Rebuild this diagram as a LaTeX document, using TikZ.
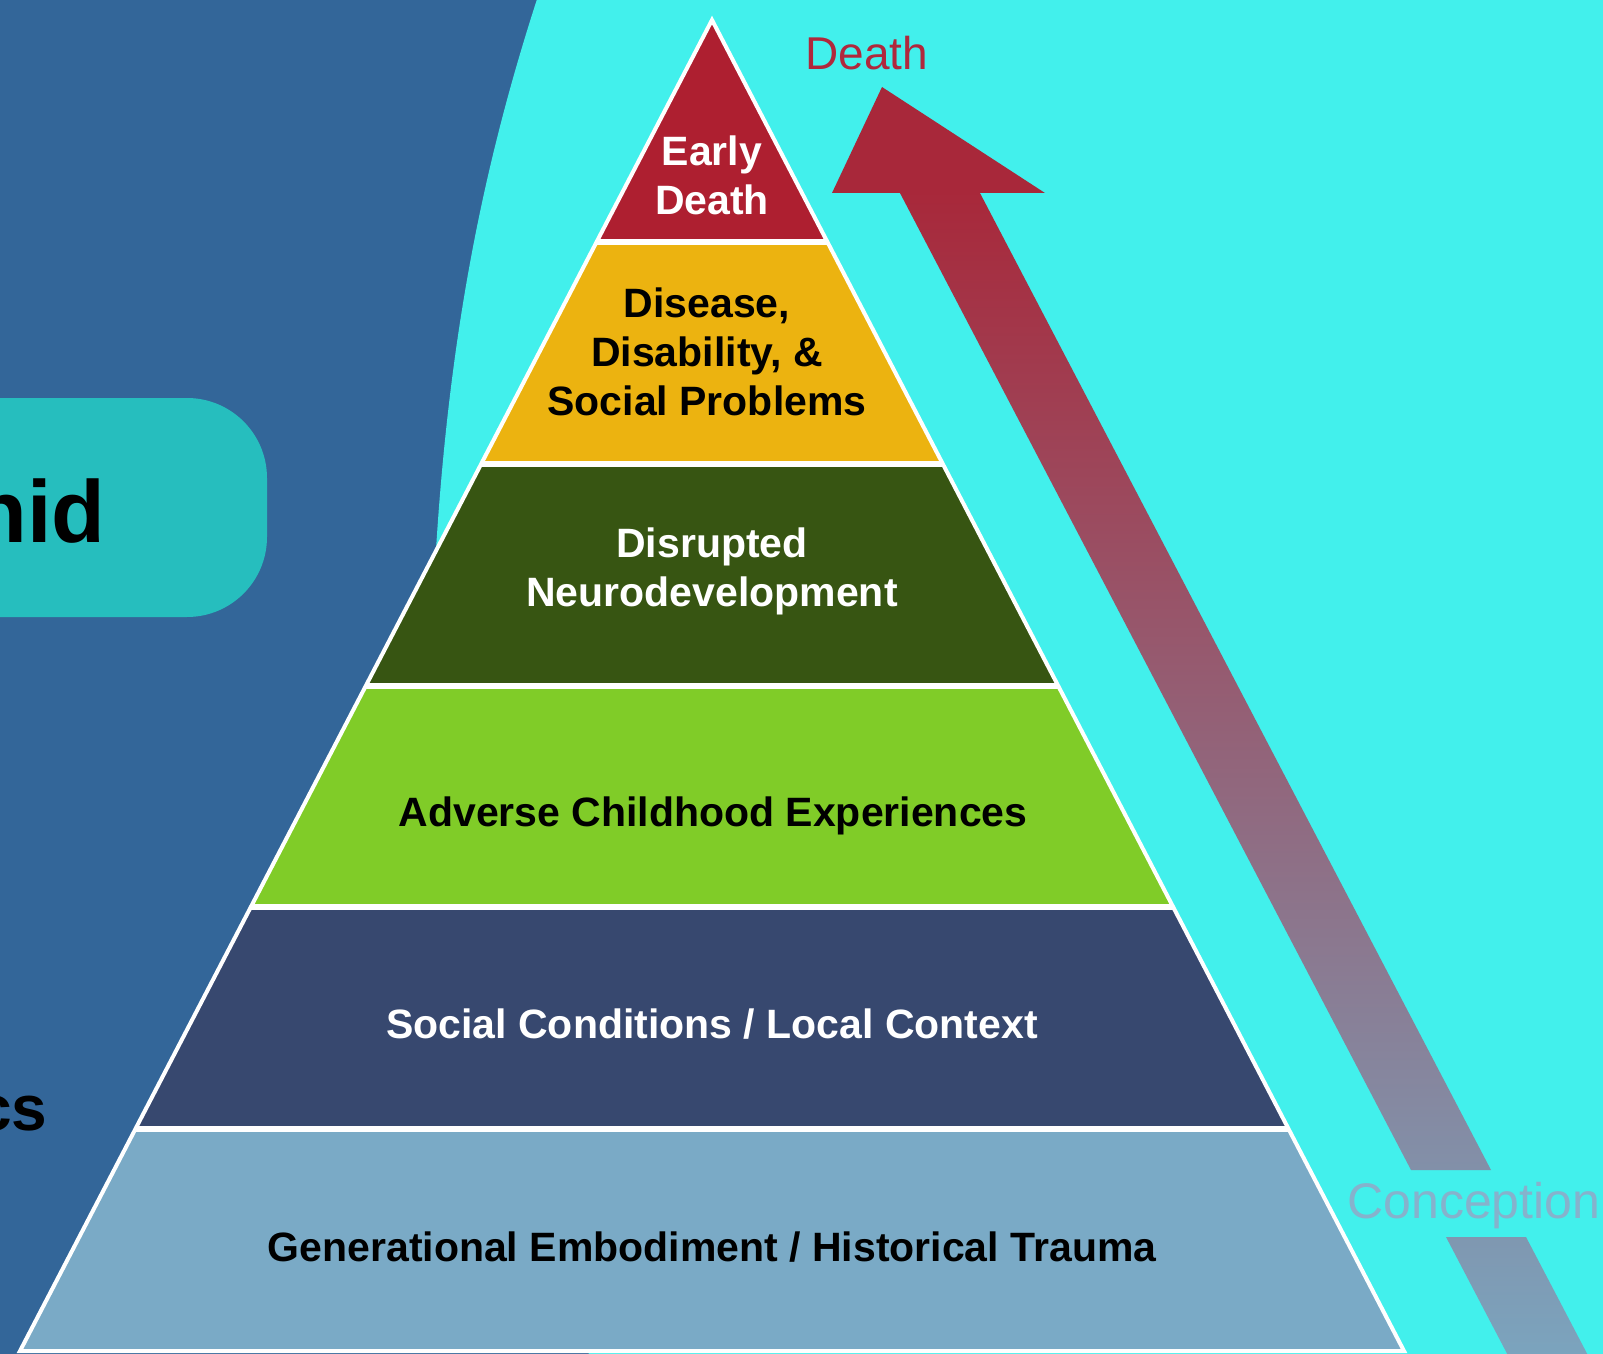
\documentclass[tikz,border=0pt]{standalone}
\usepackage{fontspec}
\setmainfont{Liberation Sans}
\usetikzlibrary{calc}
\definecolor{bgblue}{HTML}{336699}
\definecolor{aqua}{HTML}{42F0EC}
\definecolor{tealbox}{HTML}{26BEBE}
\definecolor{lyrred}{HTML}{AE1F30}
\definecolor{lyryellow}{HTML}{ECB310}
\definecolor{lyrdkgreen}{HTML}{375512}
\definecolor{lyrgreen}{HTML}{80CC28}
\definecolor{lyrnavy}{HTML}{37486F}
\definecolor{lyrsky}{HTML}{7AAAC6}
\definecolor{arrowred}{HTML}{A8283A}
\definecolor{arrowgrey}{HTML}{7BA4BE}
\definecolor{deathred}{HTML}{B0283C}
\definecolor{conceptgrey}{HTML}{86B2CC}

\begin{document}
\begin{tikzpicture}[x=0.5pt,y=-0.5pt,
  lyrtext/.style={font=\fontsize{20.5}{24.5}\selectfont\bfseries, align=center, inner sep=0},
  sidetext/.style={anchor=base east, inner sep=0, text=black},
  sep/.style={draw=white, line width=3pt},
]
\useasboundingbox (0,0) rectangle (1603,1354);
\clip (0,0) rectangle (1603,1354);

% dark blue backdrop
\fill[bgblue] (0,0) rectangle (1603,1354);

% rounded label box and side captions
\fill[tealbox, rounded corners=40pt] (-200,398) rectangle (267,617);
\node[sidetext, font=\fontsize{44}{48}\selectfont\bfseries] (nid) at (106,542) {nid};
\node[sidetext, font=\fontsize{32}{36}\selectfont\bfseries] (cs) at (48,1130) {cs};

% aqua field behind the pyramid
\fill[aqua] (540,-10) .. controls (476,185) and (436,390) .. (430,700)
  -- (600,1400) -- (1700,1400) -- (1700,-10) -- cycle;

% life-course arrow: shaded shaft broken by the caption, solid head
\coordinate (tip) at (882,87);
\coordinate (hl) at (832,193);
\coordinate (hr) at (1045,193);
\shade[top color=arrowred, bottom color=arrowgrey]
  (898.4,190) -- (978.4,190) -- (1491,1170) -- (1411,1170) -- cycle
  (1446,1237) -- (1526,1237) -- (1588.3,1356) -- (1508.3,1356) -- cycle;
\fill[arrowred] (tip) -- (hr) -- (hl) -- cycle;

% pyramid corners and layer boundaries
\coordinate (A) at (712,20);
\coordinate (BL) at (20,1351);
\coordinate (BR) at (1404,1351);
\foreach \k in {1,...,6} {
  \coordinate (L\k) at ($(A)!\k/6!(BL)$);
  \coordinate (R\k) at ($(A)!\k/6!(BR)$);
}

% layers
\fill[lyrred] (A) -- (R1) -- (L1) -- cycle;
\fill[lyryellow] (L1) -- (R1) -- (R2) -- (L2) -- cycle;
\fill[lyrdkgreen] (L2) -- (R2) -- (R3) -- (L3) -- cycle;
\fill[lyrgreen] (L3) -- (R3) -- (R4) -- (L4) -- cycle;
\fill[lyrnavy] (L4) -- (R4) -- (R5) -- (L5) -- cycle;
\fill[lyrsky] (L5) -- (R5) -- (R6) -- (L6) -- cycle;

% white separators and outline
\foreach \k in {1,...,5} { \draw[sep] (L\k) -- (R\k); }
\draw[draw=white, line width=2pt, line join=miter] (A) -- (BR) -- (BL) -- cycle;

% layer labels
\node[lyrtext, text=white] (early) at (712,175) {Early\\Death};
\node[lyrtext] (disease) at (707,352) {Disease,\\Disability, \&\\Social Problems};
\node[lyrtext, text=white] (neuro) at (712,571) {Disrupted\\Neurodevelopment};
\node[lyrtext, anchor=base] (ace) at (713,826) {Adverse Childhood Experiences};
\node[lyrtext, text=white, anchor=base] (social) at (712,1038) {Social Conditions / Local Context};
\node[lyrtext, anchor=base] (gen) at (712,1261) {Generational Embodiment / Historical Trauma};

% arrow end labels
\node[anchor=base west, inner sep=0, text=deathred, font=\fontsize{23}{26}\selectfont] (death) at (805,70) {Death};
\node[anchor=base west, inner sep=0, text=conceptgrey, font=\fontsize{25}{28}\selectfont] (conc) at (1347,1218) {Conception};
\end{tikzpicture}
\end{document}
